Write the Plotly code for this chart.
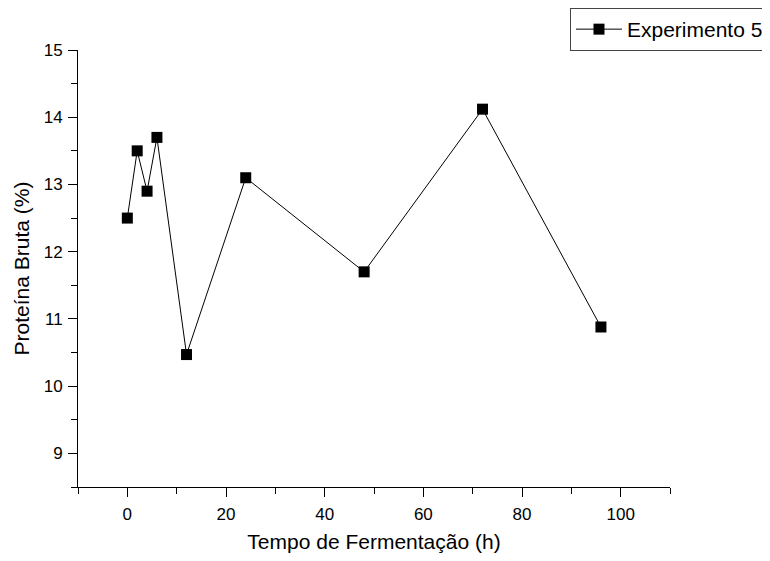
import plotly.graph_objects as go

tempo = [0, 2, 4, 6, 12, 24, 48, 72, 96]
proteina = [12.5, 13.5, 12.9, 13.7, 10.47, 13.1, 11.7, 14.12, 10.88]
serie_nome = "Experimento 5"
x_ticks = [0, 20, 40, 60, 80, 100]
y_ticks = [9, 10, 11, 12, 13, 14, 15]

fig = go.Figure()
fig.add_trace(go.Scatter(
    x=tempo, y=proteina, mode="lines+markers", name=serie_nome,
    line=dict(color="black", width=1),
    marker=dict(symbol="square", size=11, color="black"),
))

font = "Liberation Sans, Arial, sans-serif"
# page body has an 8px default margin, so the figure is 8px smaller
fig.update_layout(
    width=762, height=553,
    margin=dict(l=70, r=100, t=42, b=74, autoexpand=False),
    paper_bgcolor="white", plot_bgcolor="white",
    font=dict(family=font, color="black", size=17),
    showlegend=True,
    legend=dict(
        x=1.1672, y=1.0961, xanchor="right", yanchor="top",
        bordercolor="#444", borderwidth=1, bgcolor="white",
        font=dict(size=21, family=font),
        itemwidth=46, tracegroupgap=0,
    ),
    xaxis=dict(
        range=[-10, 110], tickvals=x_ticks, showgrid=False, zeroline=False,
        showline=True, linecolor="black", linewidth=1,
        ticks="outside", ticklen=9, tickcolor="black",
        minor=dict(dtick=10, tick0=-10, ticks="outside", ticklen=6, tickcolor="black", showgrid=False),
        title=dict(text="Tempo de Fermentação (h)", font=dict(size=21), standoff=10),
        tickfont=dict(size=17), ticklabelstandoff=3,
        automargin=False,
    ),
    yaxis=dict(
        range=[8.5, 15], tickvals=y_ticks, showgrid=False, zeroline=False,
        showline=True, linecolor="black", linewidth=1,
        ticks="outside", ticklen=9, tickcolor="black",
        minor=dict(dtick=0.5, tick0=8.5, ticks="outside", ticklen=6, tickcolor="black", showgrid=False),
        title=dict(text="Proteína Bruta (%)", font=dict(size=21), standoff=8),
        tickfont=dict(size=17), ticklabelstandoff=2,
        automargin=False,
    ),
)
fig.write_html("out.html")
